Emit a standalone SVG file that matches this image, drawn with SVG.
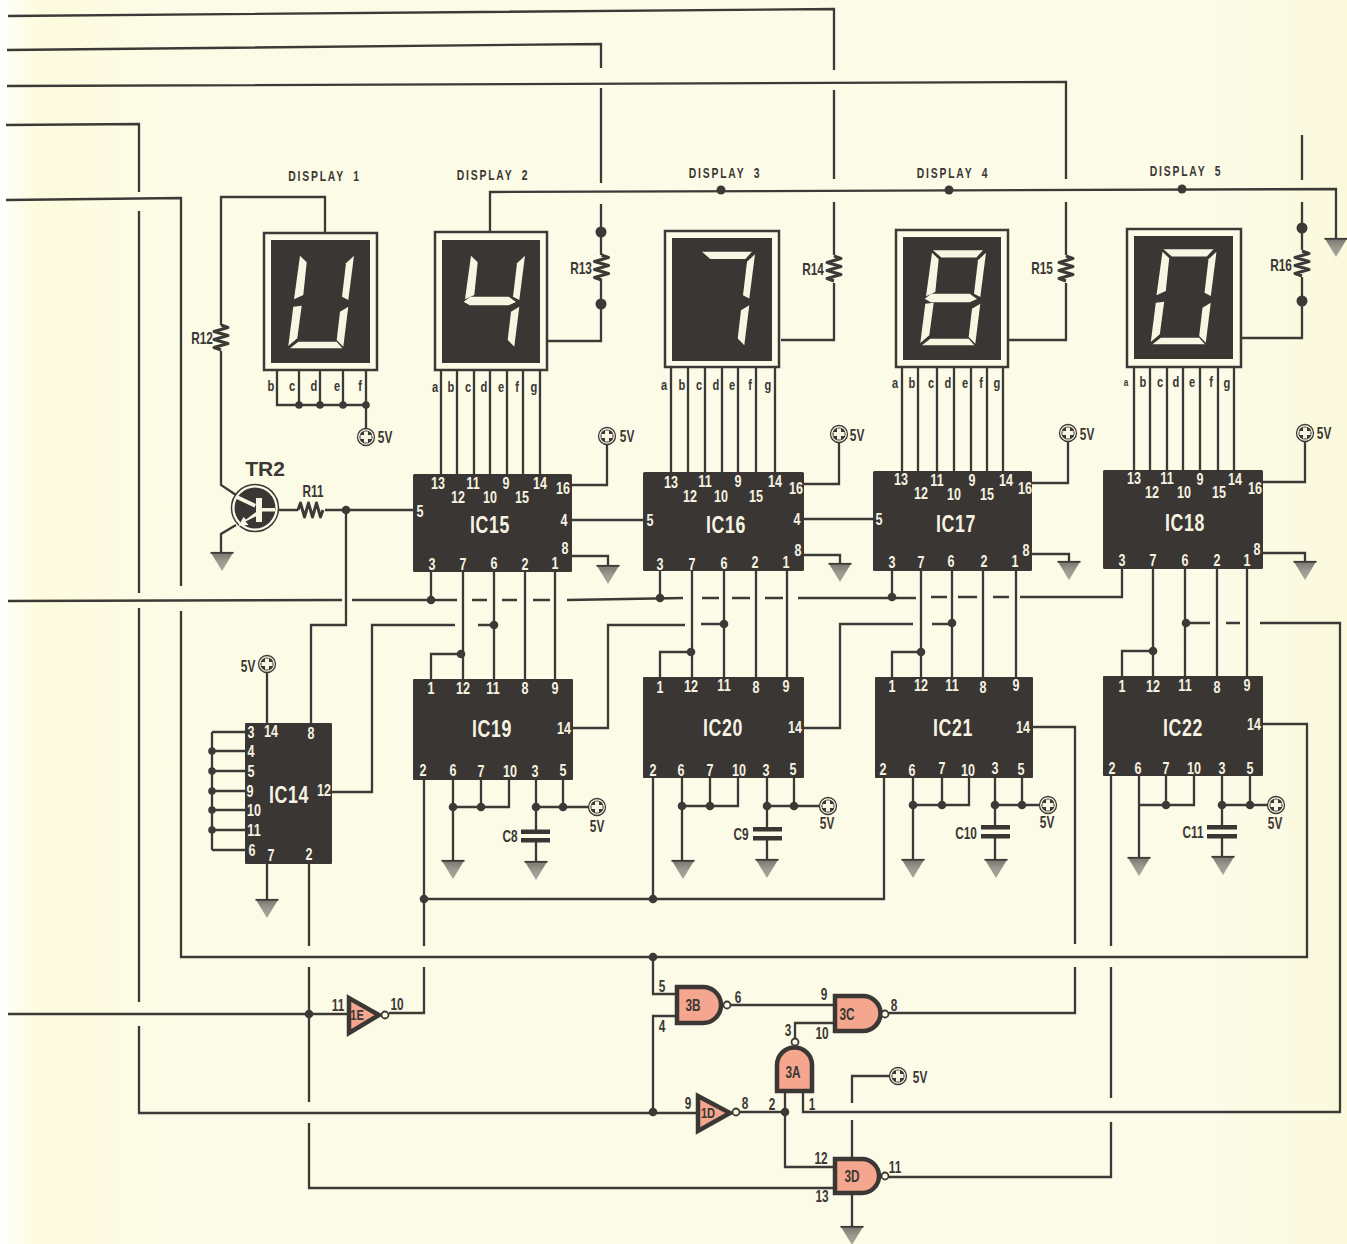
<svg xmlns="http://www.w3.org/2000/svg" width="1347" height="1244" viewBox="0 0 1347 1244">
<style>
text{font-family:"Liberation Sans",Arial,sans-serif;font-weight:700;text-anchor:middle;dominant-baseline:central;transform-box:fill-box;transform-origin:center;transform:scaleX(.74)}
.w{fill:#f6f3e2;font-size:17px}
.t{fill:#f6f3e2;font-size:24px;letter-spacing:.8px}
.k{fill:#3b3734;font-size:16px}
.l{fill:#3b3734;font-size:15px}
.h{fill:#3b3734;font-size:14px;letter-spacing:2.500px;word-spacing:5px}
.g{fill:#3b3734;font-size:16px}
.s{font-size:15px}
.wire{fill:none;stroke:#3d3936;stroke-width:2.300;stroke-linejoin:miter}
.j{fill:#3d3936;stroke:none}
.ic{fill:#3a3634}
.frame{fill:#fcfbe8;stroke:#3d3936;stroke-width:2.500}
.scr{fill:#3a3634}
.seg{fill:#f8f5e2}
.gate{fill:#f4a68f;stroke:#3b3734;stroke-width:4.500;stroke-linejoin:miter}
.bub{fill:#fcfbe8;stroke:#3b3734;stroke-width:1.800}
.res{fill:none;stroke:#3d3936;stroke-width:3;stroke-linejoin:round}
.cap{fill:#3a3634}
</style>
<defs>
<linearGradient id="paper" x1="0" x2="1" y1="0" y2="0">
<stop offset="0" stop-color="#ffffff"/><stop offset=".012" stop-color="#fefdee"/><stop offset=".03" stop-color="#fdfbdd"/><stop offset=".12" stop-color="#fcfbe6"/><stop offset=".9" stop-color="#fbfbe8"/><stop offset="1" stop-color="#fbf9dc"/>
</linearGradient>
<linearGradient id="gray" x1="0" x2="0" y1="0" y2="1"><stop offset="0" stop-color="#77736c"/><stop offset=".5" stop-color="#9b9890"/><stop offset="1" stop-color="#a9a69c"/></linearGradient>
<g id="gnd"><polygon points="-11.500,0 11.500,0 0,19" fill="url(#gray)"/><path d="M-11.500,.8H11.500" stroke="#3d3936" stroke-width="1.800"/></g>
<g id="vcc"><circle r="8.500" fill="#fcfbe8" stroke="#3d3936" stroke-width="1.300"/><circle r="6.600" fill="#3d3936"/><path d="M-2,-5.500h4v3.500h3.500v4h-3.500v3.500h-4v-3.500h-3.500v-4h3.500z" fill="#f8f5e2"/></g>
<path id="rv" class="res" d="M0,0l7,2.500-14,4 14,4-14,4 14,4-14,4 7,2.500"/>
<polygon id="sa" class="seg" points="30,13.300 80,13.300 73.300,20.500 38.300,20.500"/>
<polygon id="sb" class="seg" points="83,15.700 75,23.300 71,56.700 77.300,60"/>
<polygon id="sc" class="seg" points="77.300,66.700 69,71.700 65.700,100 72.300,106.700"/>
<polygon id="sd" class="seg" points="27.300,101.700 65.700,101.700 71.300,108.300 19,108.300"/>
<polygon id="se" class="seg" points="22.300,66.700 30.700,65.700 26.300,98.300 17.300,106"/>
<polygon id="sf" class="seg" points="29,15.700 35.700,22.300 32.300,55 23,59.300"/>
<polygon id="sg" class="seg" points="21.700,61.700 28.300,56.700 66.700,56.700 74,62 66.700,65.300 27.700,65.300"/>
</defs>
<rect width="1347" height="1244" fill="url(#paper)"/>

<g id="connectors" class="wire">
<path d="M8,16L834,9V70M834,90V179M834,202V255M834,283V340H781"/>
<path d="M7,50L601,44V68M601,88V183M601,204V255M601,279V341H548"/>
<path d="M7,86L1066,82V179M1066,202V255M1066,283V340H1009"/>
<path d="M6,125L139,124V192M139,211V593M139,608V1002M139,1026V1113H696"/>
<path d="M6,200L181,198V586M181,611V957H1307V724H1263"/>
<path d="M1302,135V180M1302,202V250M1302,277V338H1242"/>
<path d="M490,232V192L1336,189V238"/>
<path d="M325,232V197H221V325M221,351V485L236,495"/>
<path d="M236,525L221,534V552"/>
<path d="M279,510H298M325,510H413"/>
<path d="M346,510V625H311V723"/>
<path d="M267,672V723"/>
<path d="M212,732H245M212,751H245M212,771H245M212,791H245M212,810H245M212,830H245M212,850H245M212,732V850"/>
<path d="M332,792H372V625H455M478,625H494"/>
<path d="M573,728H608V625H685M701,624H724"/>
<path d="M804,728H840V624H913M932,624H952"/>
<path d="M1033,727H1075V944M1075,967V1013H889"/>
<path d="M8,601L342,600M352,600H457M472,600H487M502,600H517M533,600H550M567,600L683,598M702,598H719M732,598H750M765,598H783M798,598H916M931,597H947M958,597H977M993,597H1009M1020,597H1122V569"/>
<path d="M1186,623H1210M1226,623H1240M1260,623H1340V1112H803V1093"/>
<path d="M277,370V405H366M299,370V405M320,370V405M343,370V405M366,370V429"/>
<path d="M441,370V474M457,370V474M474,370V474M490,370V474M507,370V474M523,370V474M540,370V474"/>
<path d="M671,367V472M688,367V472M705,367V472M722,367V472M738,367V472M756,367V472M775,367V472"/>
<path d="M902,367V471M918,367V471M937,367V471M954,367V471M971,367V471M987,367V471M1003,367V471"/>
<path d="M1134,367V470M1150,367V470M1167,367V470M1183,367V470M1200,367V470M1218,367V470M1234,367V470"/>
<path d="M572,485H607V444M572,520H643M572,556H608V565"/>
<path d="M804,484H839V442M804,519H873M804,555H840V563"/>
<path d="M1032,483H1068V441M1032,554H1069V561"/>
<path d="M1263,482H1305V441M1263,553H1305V561"/>
<path d="M431,572V600M463,572V679M494,572V679M525,572V679M555,572V679M461,654H431V679"/>
<path d="M660,571V598M692,571V677M724,571V677M756,571V677M787,571V677M691,652H660V677"/>
<path d="M892,571V597M921,571V677M952,571V677M983,571V677M1016,571V677M921,652H892V677"/>
<path d="M1153,569V676M1185,569V676M1217,569V676M1247,569V676M1153,651H1122V676"/>
<path d="M453,780V860M481,780V807M509,780V807H453M536,780V832M536,840V861M563,780V807M536,807H589"/>
<path d="M682,778V860M710,778V806M738,778V806H682M767,778V829M767,838V859M794,778V806M767,806H820"/>
<path d="M913,778V859M942,778V805M969,778V805H913M995,778V827M995,836V859M1022,778V805M995,805H1040"/>
<path d="M1139,776V857M1166,776V805M1194,776V805H1139M1222,776V827M1222,836V856M1250,776V805M1222,805H1268"/>
<path d="M424,780V946M424,967V1013H389"/>
<path d="M653,778V899M424,899H884V778"/>
<path d="M1111,776V946M1111,967V1098M1111,1122V1177H889"/>
<path d="M309,864V946M309,967V1102M309,1123V1188H835"/>
<path d="M8,1014H347"/>
<path d="M267,864V899"/>
<path d="M653,957V994H676M676,1016H653V1113M731,1005H835"/>
<path d="M835,1023H795V1038"/>
<path d="M785,1093V1167H835M740,1112H785"/>
<path d="M852,1103V1076H890M852,1120V1157M852,1195V1226"/>
<circle class="j" cx="721" cy="190" r="4.500"/><circle class="j" cx="949" cy="190" r="4.500"/><circle class="j" cx="1182" cy="189" r="4.500"/>
<circle class="j" cx="601" cy="232" r="5.500"/><circle class="j" cx="601" cy="304" r="5.500"/><circle class="j" cx="1302" cy="228" r="5.500"/><circle class="j" cx="1302" cy="301" r="5.500"/>
<circle class="j" cx="299" cy="405" r="3.800"/><circle class="j" cx="320" cy="405" r="3.800"/><circle class="j" cx="343" cy="405" r="3.800"/><circle class="j" cx="366" cy="405" r="3.800"/>
<circle class="j" cx="346" cy="510" r="4.300"/>
<circle class="j" cx="431" cy="600" r="4.300"/><circle class="j" cx="660" cy="598" r="4.300"/><circle class="j" cx="892" cy="597" r="4.300"/>
<circle class="j" cx="494" cy="625" r="4.300"/><circle class="j" cx="724" cy="624" r="4.300"/><circle class="j" cx="952" cy="623" r="4.300"/><circle class="j" cx="1186" cy="623" r="4.300"/>
<circle class="j" cx="461" cy="654" r="4.300"/><circle class="j" cx="691" cy="652" r="4.300"/><circle class="j" cx="921" cy="652" r="4.300"/><circle class="j" cx="1153" cy="651" r="4.300"/>
<circle class="j" cx="212" cy="751" r="3.800"/><circle class="j" cx="212" cy="771" r="3.800"/><circle class="j" cx="212" cy="791" r="3.800"/><circle class="j" cx="212" cy="810" r="3.800"/><circle class="j" cx="212" cy="830" r="3.800"/>
<circle class="j" cx="453" cy="807" r="4.300"/><circle class="j" cx="481" cy="807" r="4.300"/><circle class="j" cx="536" cy="807" r="4.300"/><circle class="j" cx="563" cy="807" r="4.300"/>
<circle class="j" cx="682" cy="806" r="4.300"/><circle class="j" cx="710" cy="806" r="4.300"/><circle class="j" cx="767" cy="806" r="4.300"/><circle class="j" cx="794" cy="806" r="4.300"/>
<circle class="j" cx="913" cy="805" r="4.300"/><circle class="j" cx="942" cy="805" r="4.300"/><circle class="j" cx="995" cy="805" r="4.300"/><circle class="j" cx="1022" cy="805" r="4.300"/>
<circle class="j" cx="1166" cy="805" r="4.300"/><circle class="j" cx="1222" cy="805" r="4.300"/><circle class="j" cx="1250" cy="805" r="4.300"/>
<circle class="j" cx="424" cy="899" r="4.300"/><circle class="j" cx="653" cy="899" r="4.300"/><circle class="j" cx="653" cy="957" r="4.300"/>
<circle class="j" cx="309" cy="1014" r="4.300"/><circle class="j" cx="653" cy="1112" r="4.300"/><circle class="j" cx="785" cy="1112" r="4.300"/>
</g>

<g id="ground-main"><use href="#gnd" x="1336" y="238"/></g>
<g id="R12"><use href="#rv" x="221" y="325"/><text class="g" x="202" y="338">R12</text></g>
<g id="R13"><use href="#rv" x="601.500" y="255"/><text class="g" x="581" y="268">R13</text></g>
<g id="R14"><use href="#rv" x="834" y="256"/><text class="g" x="813" y="269">R14</text></g>
<g id="R15"><use href="#rv" x="1066" y="256"/><text class="g" x="1042" y="268">R15</text></g>
<g id="R16"><use href="#rv" x="1302" y="251"/><text class="g" x="1281" y="265">R16</text></g>
<g id="R11"><use href="#rv" transform="translate(298,510) rotate(-90)"/><text class="g" x="313" y="491">R11</text></g>

<g id="display1">
<text class="h" x="324.500" y="176">DISPLAY 1</text>
<rect class="frame" x="264" y="233" width="113" height="137"/><rect class="scr" x="271" y="240" width="99" height="123"/>
<g transform="translate(271,240)"><use href="#sf"/><use href="#se"/><use href="#sd"/><use href="#sb"/><use href="#sc"/></g>
<text class="l" x="271" y="386">b</text><text class="l" x="292" y="386">c</text><text class="l" x="314" y="386">d</text><text class="l" x="337" y="386">e</text><text class="l" x="360" y="386">f</text>
<use href="#vcc" x="366" y="437"/><text class="g" x="385" y="437">5V</text>
</g>
<g id="display2">
<text class="h" x="493" y="175">DISPLAY 2</text>
<rect class="frame" x="435" y="232" width="112" height="138"/><rect class="scr" x="442" y="240" width="98" height="123"/>
<g transform="translate(442,240)"><use href="#sf"/><use href="#sg"/><use href="#sb"/><use href="#sc"/></g>
<text class="l" x="435" y="387">a</text><text class="l" x="451" y="387">b</text><text class="l" x="468" y="387">c</text><text class="l" x="484" y="387">d</text><text class="l" x="501" y="387">e</text><text class="l" x="517" y="387">f</text><text class="l" x="534" y="387">g</text>
</g>
<g id="display3">
<text class="h" x="725" y="173">DISPLAY 3</text>
<rect class="frame" x="665" y="231" width="114" height="136"/><rect class="scr" x="672" y="238" width="100" height="123"/>
<g transform="translate(672,238.500)"><use href="#sa"/><use href="#sb"/><use href="#sc"/></g>
<text class="l" x="664" y="385">a</text><text class="l" x="682" y="385">b</text><text class="l" x="699" y="385">c</text><text class="l" x="716" y="385">d</text><text class="l" x="732" y="385">e</text><text class="l" x="750" y="385">f</text><text class="l" x="768" y="385">g</text>
</g>
<g id="display4">
<text class="h" x="953" y="173">DISPLAY 4</text>
<rect class="frame" x="896" y="230" width="112" height="137"/><rect class="scr" x="903" y="237" width="98" height="123"/>
<g transform="translate(903,237)"><use href="#sa"/><use href="#sb"/><use href="#sc"/><use href="#sd"/><use href="#se"/><use href="#sf"/><use href="#sg"/></g>
<text class="l" x="895" y="383">a</text><text class="l" x="912" y="383">b</text><text class="l" x="931" y="383">c</text><text class="l" x="948" y="383">d</text><text class="l" x="965" y="383">e</text><text class="l" x="981" y="383">f</text><text class="l" x="997" y="383">g</text>
</g>
<g id="display5">
<text class="h" x="1186" y="171">DISPLAY 5</text>
<rect class="frame" x="1127" y="229" width="114" height="138"/><rect class="scr" x="1134" y="236" width="99" height="123"/>
<g transform="translate(1133.500,236)"><use href="#sa"/><use href="#sb"/><use href="#sc"/><use href="#sd"/><use href="#se"/><use href="#sf"/></g>
<text class="l" x="1126" y="382" style="font-size:11px">a</text><text class="l" x="1143" y="382">b</text><text class="l" x="1160" y="382">c</text><text class="l" x="1176" y="382">d</text><text class="l" x="1192" y="382">e</text><text class="l" x="1211" y="382">f</text><text class="l" x="1227" y="383">g</text>
</g>

<g id="TR2">
<text x="265" y="468" style="font-size:21px;fill:#3b3734;transform:none">TR2</text>
<circle cx="255" cy="508" r="23.500" fill="#fcfbe8" stroke="#3d3936" stroke-width="1.500"/><circle cx="255" cy="508" r="20.500" fill="#3a3634"/>
<path d="M256,498h6v24h-6z M262,508h13v3.500h-13z M237,495l19,9-1.500,3.500-19-9z M256,512l1.500,3.500-12,6 3,3.500-10,1 5-9 2.500,2.500z" fill="#f8f5e2"/>
<use href="#gnd" x="222" y="552"/>
</g>

<g id="IC15">
<rect class="ic" x="413" y="474" width="159" height="98" rx="1.500"/>
<text class="t" x="490" y="524">IC15</text>
<text class="w" x="438" y="483">13</text><text class="w" x="458" y="497">12</text><text class="w" x="473" y="483">11</text><text class="w" x="490" y="497">10</text><text class="w" x="506" y="483">9</text><text class="w" x="522" y="497">15</text><text class="w" x="540" y="483">14</text><text class="w" x="563" y="488">16</text><text class="w" x="420" y="511">5</text><text class="w" x="564" y="520">4</text><text class="w" x="565" y="548">8</text><text class="w" x="432" y="564">3</text><text class="w" x="463" y="564">7</text><text class="w" x="494" y="563">6</text><text class="w" x="525" y="564">2</text><text class="w" x="555" y="563">1</text>
<use href="#vcc" x="607" y="436"/><text class="g" x="627" y="436">5V</text><use href="#gnd" x="608" y="565"/>
</g>
<g id="IC16">
<rect class="ic" x="643" y="472" width="161" height="99" rx="1.500"/>
<text class="t" x="726" y="524">IC16</text>
<text class="w" x="671" y="482">13</text><text class="w" x="690" y="496">12</text><text class="w" x="705" y="481">11</text><text class="w" x="721" y="496">10</text><text class="w" x="738" y="481">9</text><text class="w" x="756" y="496">15</text><text class="w" x="775" y="481">14</text><text class="w" x="796" y="488">16</text><text class="w" x="650" y="520">5</text><text class="w" x="797" y="519">4</text><text class="w" x="798" y="550">8</text><text class="w" x="660" y="564">3</text><text class="w" x="692" y="564">7</text><text class="w" x="724" y="563">6</text><text class="w" x="755" y="562">2</text><text class="w" x="786" y="562">1</text>
<use href="#vcc" x="839" y="434"/><text class="g" x="857" y="435">5V</text><use href="#gnd" x="840" y="563"/>
</g>
<g id="IC17">
<rect class="ic" x="873" y="471" width="159" height="100" rx="1.500"/>
<text class="t" x="956" y="523">IC17</text>
<text class="w" x="901" y="479">13</text><text class="w" x="921" y="493">12</text><text class="w" x="937" y="480">11</text><text class="w" x="954" y="494">10</text><text class="w" x="972" y="480">9</text><text class="w" x="987" y="494">15</text><text class="w" x="1006" y="480">14</text><text class="w" x="1025" y="488">16</text><text class="w" x="879" y="519">5</text><text class="w" x="1026" y="550">8</text><text class="w" x="892" y="562">3</text><text class="w" x="921" y="562">7</text><text class="w" x="951" y="561">6</text><text class="w" x="984" y="561">2</text><text class="w" x="1015" y="561">1</text>
<use href="#vcc" x="1068" y="433"/><text class="g" x="1087" y="434">5V</text><use href="#gnd" x="1069" y="561"/>
</g>
<g id="IC18">
<rect class="ic" x="1103" y="470" width="160" height="99" rx="1.500"/>
<text class="t" x="1185" y="522">IC18</text>
<text class="w" x="1134" y="478">13</text><text class="w" x="1152" y="492">12</text><text class="w" x="1167" y="478">11</text><text class="w" x="1184" y="492">10</text><text class="w" x="1200" y="479">9</text><text class="w" x="1219" y="492">15</text><text class="w" x="1235" y="479">14</text><text class="w" x="1255" y="488">16</text><text class="w" x="1257" y="549">8</text><text class="w" x="1122" y="560">3</text><text class="w" x="1153" y="560">7</text><text class="w" x="1185" y="560">6</text><text class="w" x="1217" y="560">2</text><text class="w" x="1247" y="560">1</text>
<use href="#vcc" x="1305" y="433"/><text class="g" x="1324" y="433">5V</text><use href="#gnd" x="1305" y="561"/>
</g>

<g id="IC14">
<rect class="ic" x="245" y="723" width="87" height="141" rx="1"/>
<text class="t" x="289" y="794">IC14</text>
<text class="w" x="251" y="732">3</text><text class="w" x="271" y="731">14</text><text class="w" x="311" y="733">8</text><text class="w" x="251" y="751">4</text><text class="w" x="251" y="771">5</text><text class="w" x="250" y="791">9</text><text class="w" x="254" y="810">10</text><text class="w" x="254" y="830">11</text><text class="w" x="252" y="850">6</text><text class="w" x="271" y="855">7</text><text class="w" x="309" y="854">2</text><text class="w" x="324" y="790">12</text>
<use href="#vcc" x="267" y="664"/><text class="g" x="248" y="666">5V</text><use href="#gnd" x="267" y="899"/>
</g>

<g id="IC19">
<rect class="ic" x="413" y="679" width="160" height="101" rx="1"/>
<text class="t" x="492" y="728">IC19</text>
<text class="w" x="431" y="688">1</text><text class="w" x="463" y="688">12</text><text class="w" x="493" y="688">11</text><text class="w" x="525" y="688">8</text><text class="w" x="555" y="688">9</text><text class="w" x="564" y="728">14</text><text class="w" x="423" y="770">2</text><text class="w" x="453" y="770">6</text><text class="w" x="481" y="771">7</text><text class="w" x="510" y="771">10</text><text class="w" x="535" y="771">3</text><text class="w" x="563" y="770">5</text>
<use href="#vcc" x="597" y="807"/><text class="g" x="597" y="826">5V</text>
<rect class="cap" x="521" y="829.500" width="29" height="4.500"/><rect class="cap" x="521" y="838" width="29" height="4.500"/><text class="g" x="510" y="836">C8</text>
<use href="#gnd" x="453" y="860"/><use href="#gnd" x="536" y="861"/>
</g>
<g id="IC20">
<rect class="ic" x="643" y="677" width="161" height="101" rx="1"/>
<text class="t" x="723" y="727">IC20</text>
<text class="w" x="660" y="687">1</text><text class="w" x="691" y="686">12</text><text class="w" x="724" y="685">11</text><text class="w" x="756" y="687">8</text><text class="w" x="786" y="686">9</text><text class="w" x="795" y="727">14</text><text class="w" x="653" y="770">2</text><text class="w" x="681" y="770">6</text><text class="w" x="710" y="770">7</text><text class="w" x="739" y="770">10</text><text class="w" x="766" y="770">3</text><text class="w" x="793" y="769">5</text>
<use href="#vcc" x="828" y="806"/><text class="g" x="827" y="823">5V</text>
<rect class="cap" x="753" y="827" width="29" height="4.500"/><rect class="cap" x="753" y="836" width="29" height="4.500"/><text class="g" x="741" y="834">C9</text>
<use href="#gnd" x="683" y="860"/><use href="#gnd" x="767" y="859"/>
</g>
<g id="IC21">
<rect class="ic" x="875" y="677" width="158" height="101" rx="1"/>
<text class="t" x="953" y="727">IC21</text>
<text class="w" x="892" y="686">1</text><text class="w" x="921" y="685">12</text><text class="w" x="952" y="685">11</text><text class="w" x="983" y="687">8</text><text class="w" x="1016" y="685">9</text><text class="w" x="1023" y="727">14</text><text class="w" x="883" y="769">2</text><text class="w" x="912" y="770">6</text><text class="w" x="942" y="768">7</text><text class="w" x="968" y="770">10</text><text class="w" x="995" y="768">3</text><text class="w" x="1021" y="769">5</text>
<use href="#vcc" x="1048" y="805"/><text class="g" x="1047" y="822">5V</text>
<rect class="cap" x="981" y="825" width="29" height="4.500"/><rect class="cap" x="981" y="834" width="29" height="4.500"/><text class="g" x="966" y="833">C10</text>
<use href="#gnd" x="913" y="859"/><use href="#gnd" x="996" y="859"/>
</g>
<g id="IC22">
<rect class="ic" x="1103" y="676" width="160" height="100" rx="1"/>
<text class="t" x="1183" y="727">IC22</text>
<text class="w" x="1122" y="686">1</text><text class="w" x="1153" y="686">12</text><text class="w" x="1185" y="685">11</text><text class="w" x="1217" y="687">8</text><text class="w" x="1247" y="685">9</text><text class="w" x="1254" y="724">14</text><text class="w" x="1112" y="768">2</text><text class="w" x="1138" y="768">6</text><text class="w" x="1166" y="768">7</text><text class="w" x="1194" y="768">10</text><text class="w" x="1222" y="768">3</text><text class="w" x="1250" y="768">5</text>
<use href="#vcc" x="1276" y="805"/><text class="g" x="1275" y="823">5V</text>
<rect class="cap" x="1207" y="825" width="30" height="4.500"/><rect class="cap" x="1207" y="834" width="30" height="4.500"/><text class="g" x="1193" y="832">C11</text>
<use href="#gnd" x="1139" y="857"/><use href="#gnd" x="1223" y="856"/>
</g>

<g id="gate1E">
<polygon class="gate" points="349,998 349,1033 379,1015"/><circle class="bub" cx="385" cy="1015" r="3.500"/>
<text class="k s" x="357" y="1015">1E</text><text class="k" x="338" y="1005">11</text><text class="k" x="397" y="1004">10</text>
</g>
<g id="gate1D">
<polygon class="gate" points="698,1096 698,1131 730,1113"/><circle class="bub" cx="736" cy="1112" r="3.500"/>
<text class="k s" x="708" y="1113">1D</text><text class="k" x="688" y="1103">9</text><text class="k" x="745" y="1103">8</text>
</g>
<g id="gate3B">
<path class="gate" d="M677,987H703a18,18 0 0 1 0,36H677Z"/><circle class="bub" cx="727" cy="1005" r="3.500"/>
<text class="k" x="693" y="1005">3B</text><text class="k" x="662" y="986">5</text><text class="k" x="662" y="1026">4</text><text class="k" x="738" y="997">6</text>
</g>
<g id="gate3C">
<path class="gate" d="M835,996H863a17.500,17.500 0 0 1 0,35H835Z"/><circle class="bub" cx="885" cy="1014" r="3.500"/>
<text class="k" x="847" y="1014">3C</text><text class="k" x="824" y="994">9</text><text class="k" x="822" y="1033">10</text><text class="k" x="894" y="1005">8</text>
</g>
<g id="gate3A">
<path class="gate" d="M777,1091V1065a17.500,17.500 0 0 1 35,0V1091Z"/><circle class="bub" cx="795" cy="1042" r="3.500"/>
<text class="k" x="793" y="1072">3A</text><text class="k" x="788" y="1030">3</text><text class="k" x="772" y="1104">2</text><text class="k" x="812" y="1104">1</text>
<use href="#vcc" x="898" y="1076"/><text class="g" x="920" y="1077">5V</text>
</g>
<g id="gate3D">
<path class="gate" d="M835,1159H862a17,17 0 0 1 0,34H835Z"/><circle class="bub" cx="885" cy="1176" r="3.500"/>
<text class="k" x="852" y="1176">3D</text><text class="k" x="821" y="1158">12</text><text class="k" x="822" y="1196">13</text><text class="k" x="895" y="1167">11</text>
<use href="#gnd" x="852" y="1226"/>
</g>
</svg>
